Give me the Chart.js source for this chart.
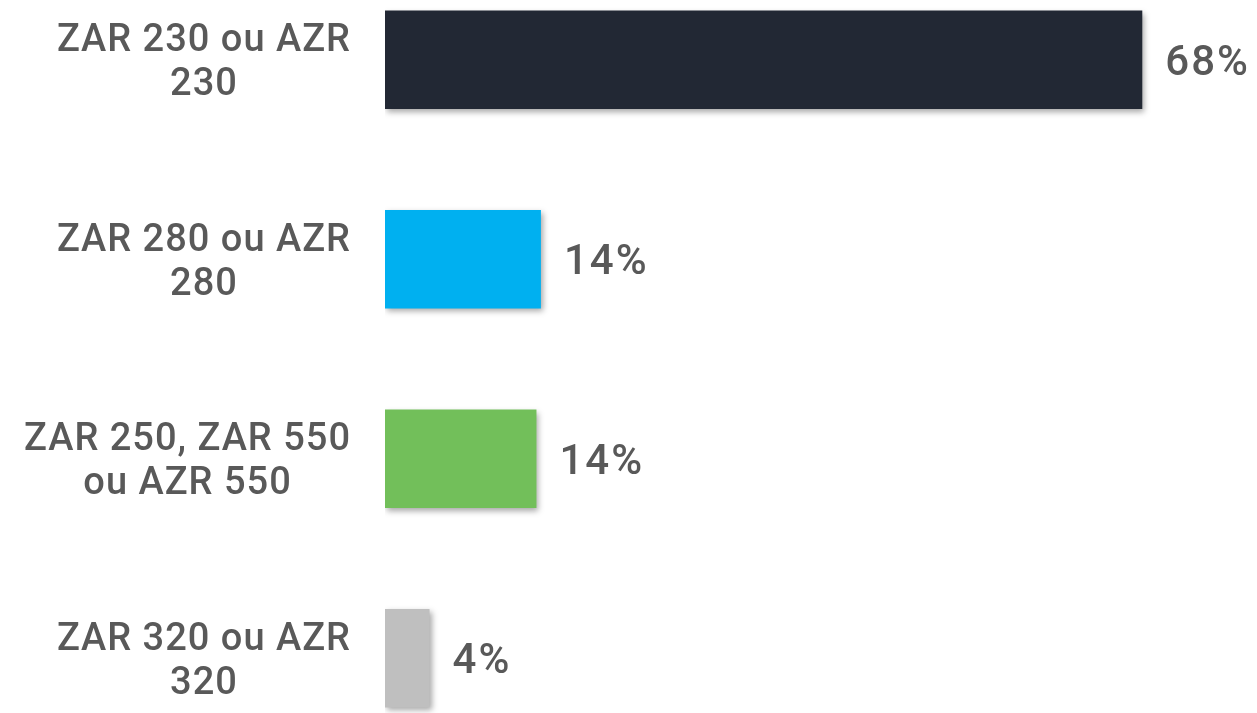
<!DOCTYPE html>
<html>
<head>
<meta charset="utf-8">
<script src="https://cdn.jsdelivr.net/npm/chart.js@4"></script>
<style>
    html, body { margin: 0; padding: 0; background: #fff; overflow: hidden; }
    body { width: 1257px; height: 713px; position: relative; }
    #wrap { position: absolute; left: 0; top: -40px; width: 1257px; height: 798px; }
</style>
</head>
<body>
<div id="wrap"><canvas id="chart"></canvas></div>
<script>
const categories = [
    ['ZAR 230 ou AZR', '230'],
    ['ZAR 280 ou AZR', '280'],
    ['ZAR 250, ZAR 550', 'ou AZR 550'],
    ['ZAR 320 ou AZR', '320']
];
const shares = [68, 14, 13.6, 4];
const barColors = ['#222834', '#00B0F0', '#72BF5A', '#BFBFBF'];

const textColor = '#595959';

// soft drop shadow under the bars
const barShadow = {
    id: 'barShadow',
    beforeDatasetsDraw(chart) {
        const ctx = chart.ctx;
        ctx.save();
        ctx.shadowColor = 'rgba(0, 0, 0, 0.35)';
        ctx.shadowBlur = 6;
        ctx.shadowOffsetX = 2;
        ctx.shadowOffsetY = 3;
    },
    afterDatasetsDraw(chart) {
        chart.ctx.restore();
    }
};

// value labels at the end of each bar, category labels on the left
const labels = {
    id: 'labels',
    afterDraw(chart) {
        const ctx = chart.ctx;
        const meta = chart.getDatasetMeta(0);
        ctx.save();
        ctx.fillStyle = textColor;
        ctx.textBaseline = 'alphabetic';

        ctx.font = '500 42px Roboto';
        ctx.letterSpacing = '2px';
        ctx.textAlign = 'left';
        meta.data.forEach((bar, i) => {
            ctx.fillText(Math.round(shares[i]) + '%', bar.x + 23, bar.y + 15);
        });

        ctx.font = '500 38px Roboto';
        ctx.letterSpacing = '1px';
        ctx.textAlign = 'center';
        const right = chart.chartArea.left - 34;
        const lineH = 44;
        categories.forEach((lines, i) => {
            const y = chart.scales.y.getPixelForValue(i);
            const widest = Math.max(...lines.map(l => ctx.measureText(l).width));
            const cx = right - widest / 2;
            lines.forEach((line, j) => {
                ctx.fillText(line, cx, y + (j - (lines.length - 1) / 2) * lineH + 13.5);
            });
        });
        ctx.restore();
    }
};

new Chart(document.getElementById('chart'), {
    type: 'bar',
    data: {
        labels: categories,
        datasets: [{
            data: shares,
            backgroundColor: barColors,
            borderWidth: 0,
            categoryPercentage: 1,
            barPercentage: 0.493
        }]
    },
    options: {
        indexAxis: 'y',
        responsive: true,
        maintainAspectRatio: false,
        animation: false,
        layout: { padding: { left: 385, right: 0, top: 0, bottom: 0 } },
        plugins: {
            legend: { display: false },
            tooltip: { enabled: false }
        },
        scales: {
            x: { display: false, min: 0, max: 78.3 },
            y: { display: false }
        }
    },
    plugins: [barShadow, labels]
});
</script>
</body>
</html>
